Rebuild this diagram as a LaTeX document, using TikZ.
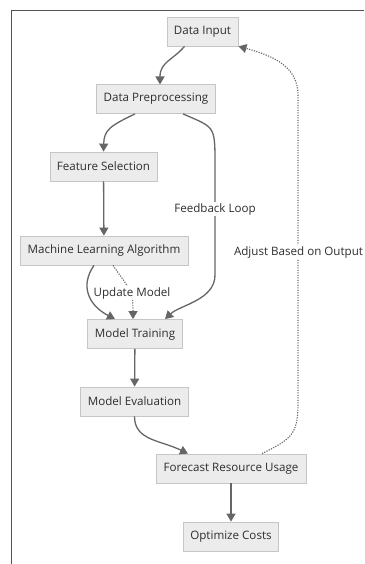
\documentclass[tikz,border=0pt]{standalone}
\usepackage{fontspec}
\setmainfont{Open Sans}
\usetikzlibrary{arrows.meta}
\definecolor{boxfill}{HTML}{ECECEC}
\definecolor{boxline}{HTML}{C6C6C6}
\definecolor{edge}{HTML}{666666}
\definecolor{txt}{HTML}{2E2E2E}
\begin{document}
\begin{tikzpicture}[x=1pt,y=-1pt,
  box/.style={draw=boxline,fill=boxfill,line width=0.8pt,minimum height=29pt,inner xsep=7pt,font=\fontsize{11.6}{13}\selectfont,text=txt},
  conn/.style={draw=edge,line width=1.3pt,-{Triangle[length=8pt,width=9pt]}},
  dotconn/.style={draw=edge,line width=1.1pt,dash pattern=on 1.2pt off 1.3pt,-{Triangle[length=8pt,width=9pt]}},
  lbl/.style={fill=white,inner sep=1pt,font=\fontsize{11.6}{13}\selectfont,text=txt}]
\useasboundingbox (0,0) rectangle (364,564);
\fill[white] (0,0) rectangle (364,564);
\draw[color=edge!80!black,line width=1pt] (11.5,564) -- (11.5,10.5) -- (364,10.5);

\node[box,minimum width=69pt] (di) at (202.5,31.5) {Data Input};
\node[box,minimum width=112pt] (dp) at (156,99) {Data Preprocessing};
\node[box,minimum width=107pt] (fs) at (103.5,166.5) {Feature Selection};
\node[box,minimum width=168pt] (ml) at (104,250.5) {Machine Learning Algorithm};
\node[box,minimum width=94pt] (mt) at (135,334) {Model Training};
\node[box,minimum width=107pt] (me) at (134.5,401.5) {Model Evaluation};
\node[box,minimum width=150pt] (fr) at (231,468.5) {Forecast Resource Usage};
\node[box,minimum width=94pt] (oc) at (231,536.5) {Optimize Costs};

\coordinate (dpin) at (160,84.5);
\draw[conn] (di.south) ++(-18,0) .. controls +(-12,14) and (160,62) .. (dpin);
\draw[conn] (dp.south) ++(-21,0) .. controls +(-25,12) and (104,130) .. (fs.north);
\draw[conn] (fs) -- (ml);
\draw[conn] (dp.south) ++(27,0) .. controls +(32,14) and (215,125) .. (215,165) -- (215,275) .. controls (215,300) and (180,305) .. ([xshift=30pt]mt.north);
\node[lbl] at (215,209) {Feedback Loop};
\draw[conn] (ml.south) ++(-10,0) .. controls +(-14,20) and (88,305) .. ([xshift=-20pt]mt.north);
\draw[dotconn] (ml.south) ++(9,0) .. controls +(18,26) and (133,290) .. ([xshift=-2pt]mt.north);
\node[lbl] at (132,293) {Update Model};
\draw[conn] (mt) -- (me);
\draw[conn] (me.south) .. controls +(0,24) and (160,440) .. ([xshift=-43pt]fr.north);
\draw[conn] (fr) -- (oc);
\draw[dotconn] (fr.north) ++(31,0) .. controls +(28,-14) and (298,435) .. (298,405) -- (298,95) .. controls (298,65) and (270,55) .. (di.south east);
\node[lbl] at (298.5,252) {Adjust Based on Output};
\end{tikzpicture}
\end{document}
